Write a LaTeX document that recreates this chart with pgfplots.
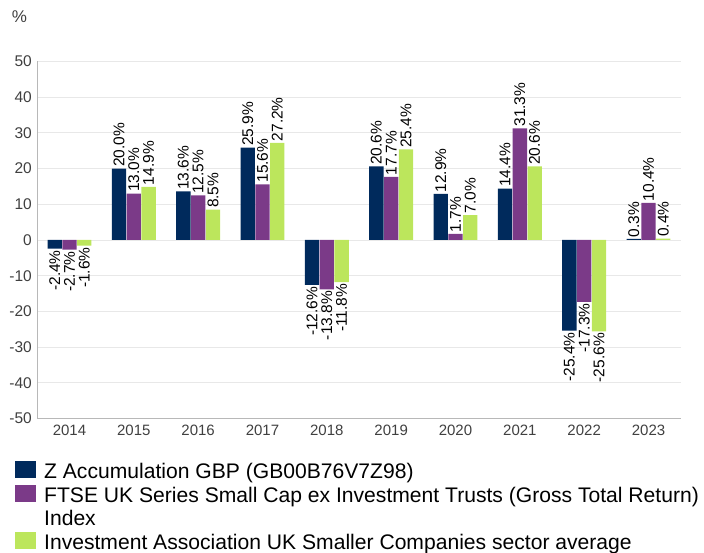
\documentclass[border=0pt]{standalone}
\usepackage{fontspec}
\setmainfont{Liberation Sans}
\usepackage{graphicx}
\usepackage{pgfplots}
\pgfplotsset{compat=1.18}
\definecolor{navy}{HTML}{002A5C}
\definecolor{plum}{HTML}{7B3A88}
\definecolor{lime}{HTML}{BCE65C}
\definecolor{ticktxt}{HTML}{404040}
\begin{document}
\begin{tikzpicture}
\path[use as bounding box] (-37.3pt,-134.5pt) rectangle (666.7pt,418.5pt);
\begin{axis}[
  at={(0pt,0pt)}, anchor=south west,
  scale only axis, width=643.4pt, height=357pt,
  xmin=2013.5, xmax=2023.5, ymin=-50, ymax=50,
  ybar, bar width=14.3pt,
  xtick={2014,2015,...,2023},
  ytick={-50,-40,...,50},
  /pgf/number format/assume math mode=true,
  /pgf/number format/1000 sep={},
  major tick length=0pt,
  axis x line=bottom, axis y line=left,
  axis line style={draw=black!28, -},
  ymajorgrids, major grid style={draw=black!9, line width=0.8pt},
  y tick label style={font=\fontsize{15.5}{18}\selectfont, text=ticktxt, xshift=-2pt},
  x tick label style={font=\fontsize{15}{18}\selectfont, text=ticktxt, yshift=-3pt},
  nodes near coords={\rotatebox{90}{\pgfmathprintnumber[fixed,fixed zerofill,precision=1]{\pgfplotspointmeta}\%}},
  every node near coord/.append style={font=\fontsize{15.5}{18}\selectfont, text=black, inner sep=1.5pt},
  legend style={at={(-0.0347,-0.1157)}, anchor=north west, draw=none, fill=none,
    inner sep=0pt, row sep=2.5pt, column sep=6pt, font=\fontsize{21.1}{23}\selectfont,
    cells={anchor=base west, align=left}},
  legend image code/.code={\fill[#1] (0pt,0pt) rectangle (21pt,17pt);},
  clip=false,
]
\addplot[fill=navy, draw=none, bar shift=-14.8pt] coordinates {
 (2014,-2.4) (2015,20.0) (2016,13.6) (2017,25.9) (2018,-12.6)
 (2019,20.6) (2020,12.9) (2021,14.4) (2022,-25.4) (2023,0.3)};
\addlegendentry{\strut Z Accumulation GBP (GB00B76V7Z98)}
\addplot[fill=plum, draw=none, bar shift=0pt,
  legend image code/.code={\fill[plum] (0pt,23pt) rectangle (21pt,40pt);}] coordinates {
 (2014,-2.7) (2015,13.0) (2016,12.5) (2017,15.6) (2018,-13.8)
 (2019,17.7) (2020,1.7) (2021,31.3) (2022,-17.3) (2023,10.4)};
\addlegendentry{\strut FTSE UK Series Small Cap ex Investment Trusts (Gross Total Return)\\\strut Index}
\addplot[fill=lime, draw=none, bar shift=14.8pt] coordinates {
 (2014,-1.6) (2015,14.9) (2016,8.5) (2017,27.2) (2018,-11.8)
 (2019,25.4) (2020,7.0) (2021,20.6) (2022,-25.6) (2023,0.4)};
\addlegendentry{\strut Investment Association UK Smaller Companies sector average}
\end{axis}
\node[anchor=west, inner sep=0pt, font=\fontsize{17}{20}\selectfont, text=ticktxt] at (-25.6pt,401.8pt) {\%};
\end{tikzpicture}
\end{document}
